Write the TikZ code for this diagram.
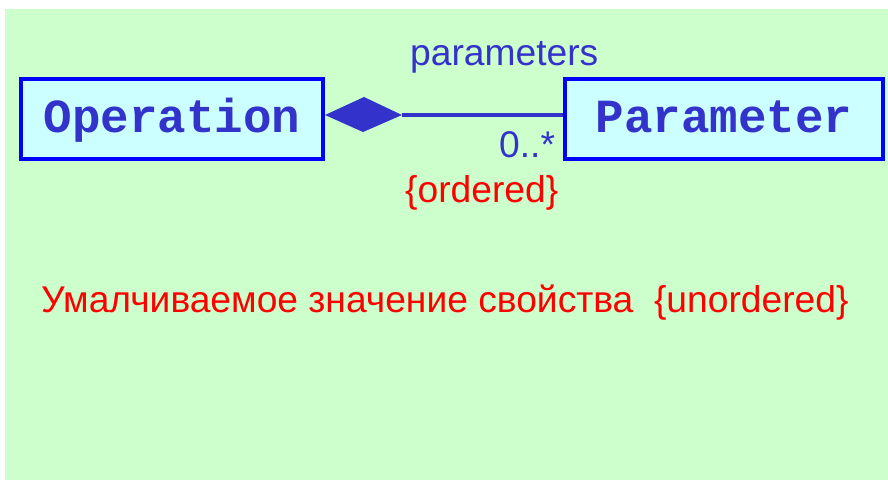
\documentclass[tikz,border=0pt]{standalone}
\usepackage{fontspec}
\setmainfont{Liberation Sans}
\newfontfamily\monobold{Liberation Mono}[BoldFont={* Bold}]
\definecolor{bggreen}{RGB}{204,255,204}
\definecolor{boxfill}{RGB}{204,255,255}
\definecolor{boxline}{RGB}{0,0,255}
\definecolor{umlblue}{RGB}{51,51,204}
\definecolor{umlred}{RGB}{255,0,0}
\tikzset{
  classbox/.style={draw=boxline, fill=boxfill, line width=4pt, inner sep=0pt,
    minimum height=80pt, text height=29pt, text depth=3pt, text=umlblue,
    font=\monobold\bfseries\fontsize{47.5}{50}\selectfont},
  lbl/.style={inner sep=0pt, anchor=base west, font=\fontsize{37.2}{40}\selectfont},
  assoc/.style={draw=umlblue, line width=4pt},
}
\begin{document}
\begin{tikzpicture}[x=1pt,y=-1pt]
\useasboundingbox (0,0) rectangle (888,480);
\fill[bggreen] (5,9) rectangle (888,480);
\node[classbox, minimum width=302pt] (op) at (172,119) {Operation};
\node[classbox, minimum width=318pt] (par) at (724,119) {Parameter};
\coordinate (dl) at ([yshift=4pt]op.east);
\coordinate (dr) at ([xshift=77pt]dl);
\draw[assoc] (dr) -- (dl -| par.west);
\fill[umlblue] (dl) -- ++(39,-18) -- (dr) -- ++(-39,17) -- cycle;
\node[lbl, text=umlblue] (role) at (410,65) {parameters};
\node[lbl, text=umlblue] (mult) at (499,157) {0..*};
\node[lbl, text=umlred] (ord) at (405,202) {\{ordered\}};
\node[lbl, text=umlred] (note) at (41,312) {Умалчиваемое значение свойства\ \ \{unordered\}};
\end{tikzpicture}
\end{document}
